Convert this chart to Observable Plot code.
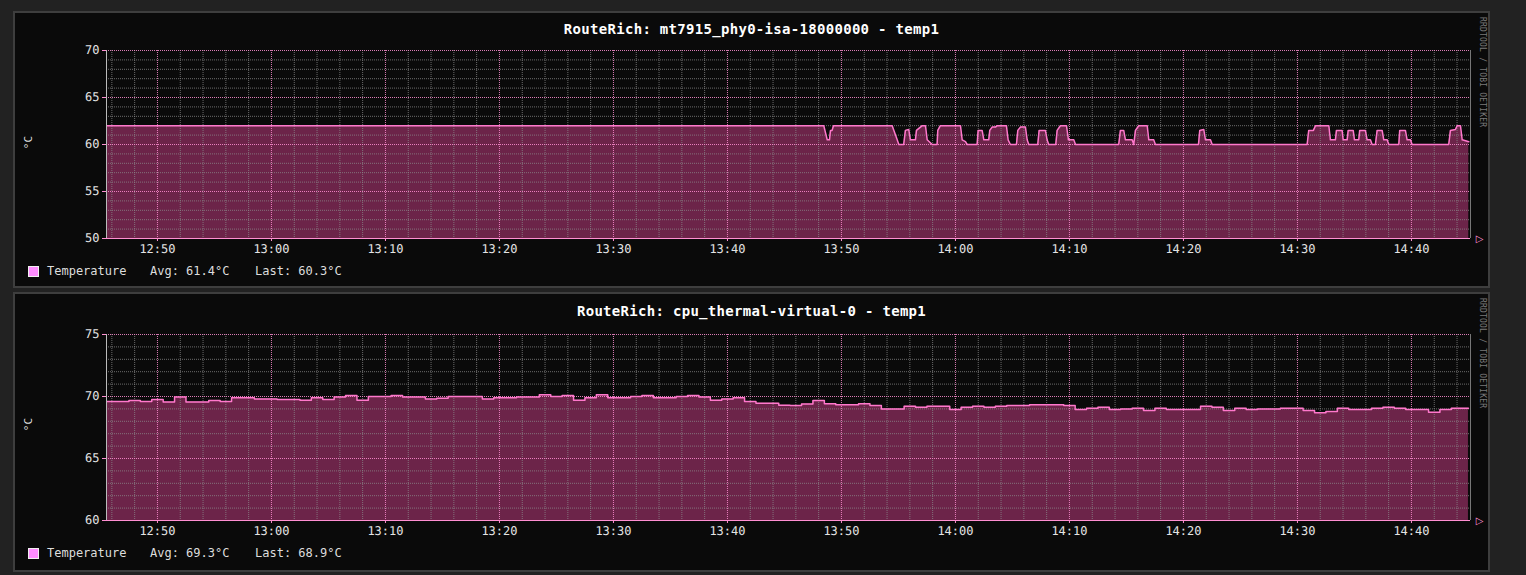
<!DOCTYPE html>
<html><head><meta charset="utf-8">
<script src="https://cdn.jsdelivr.net/npm/d3@7"></script>
<script src="https://cdn.jsdelivr.net/npm/@observablehq/plot@0.6"></script>
<style>
html,body{margin:0;padding:0;background:#222;}
body{width:1526px;height:575px;overflow:hidden;position:relative;font-family:"DejaVu Sans Mono",monospace;}
.panel{position:absolute;left:13px;width:1477px;background:#0a0a0a;border:2px solid #3e3e3e;box-sizing:border-box;}
.title{position:absolute;left:13px;width:1477px;text-align:center;color:#fff;font-weight:bold;font-size:14px;letter-spacing:0.3px;line-height:16px;}
.leg{position:absolute;color:#ddd;font-size:12px;line-height:14px;white-space:pre;}
.sw{position:absolute;width:9px;height:9px;background:#ff8cff;border:1px solid #f0f0f0;}
.rrd{position:absolute;font-size:8px;color:#7a7a7a;transform-origin:0 0;transform:rotate(90deg);white-space:pre;letter-spacing:0.2px;}
.ylab{position:absolute;font-size:11px;color:#ddd;transform:rotate(-90deg);white-space:pre;}
svg.chart{position:absolute;}
svg.chart text{text-rendering:geometricPrecision;}
</style>
</head><body>
<div class="panel" style="top:11px;height:277px"></div>
<div class="panel" style="top:292px;height:280px"></div>
<script>
// ---------- data ----------
const titles = ["RouteRich: mt7915_phy0-isa-18000000 - temp1", "RouteRich: cpu_thermal-virtual-0 - temp1"];
const seriesName = "Temperature";
const avgs = ["61.4°C", "69.3°C"];
const lasts = ["60.3°C", "68.9°C"];
const xTickLabels = ["12:50","13:00","13:10","13:20","13:30","13:40","13:50","14:00","14:10","14:20","14:30","14:40"];
const xStartMin = 45.53;   // minutes after 12:00
const xEndMin = 165.18;
const yTicks1 = [50, 55, 60, 65, 70];
const yTicks2 = [60, 65, 70, 75];

// panel 1: breakpoints (minutes after 12:00) and °C
const t1 = [45.53,108.45,108.75,108.95,109.04,109.18,109.30,114.45,114.89,115.03,115.46,115.61,115.90,116.05,116.49,116.58,116.93,117.08,117.37,117.52,117.96,118.39,118.45,118.68,120.44,120.59,120.88,121.03,121.90,121.99,122.34,122.49,122.92,123.01,123.22,123.51,123.66,124.47,124.62,124.82,125.35,125.47,125.70,126.14,126.29,126.43,127.22,127.34,127.89,128.04,128.18,128.80,128.92,129.21,129.74,129.91,130.38,130.53,134.32,134.47,134.76,134.91,135.50,135.64,135.79,136.08,136.82,136.96,137.39,137.54,141.32,141.43,141.78,141.93,142.37,142.52,150.85,150.99,151.40,151.58,152.75,152.89,153.33,153.42,153.92,154.01,154.36,154.45,154.89,155.00,155.38,155.46,155.96,156.11,156.40,156.55,156.84,156.99,157.43,157.57,157.87,158.01,158.89,158.97,159.47,159.62,159.91,160.06,163.27,163.42,163.86,164.01,164.30,164.45,165.03];
const v1 = [62,62,60.5,60.5,61.5,61.5,62,62,60.5,60,60,61.5,61.6,60.5,60.5,61.5,61.85,62,62,60.5,60,60,61.5,62,62,60.5,60.3,60,60,61.5,61.5,60.5,60.5,61.5,61.85,61.85,62,62,60.5,60,60,61.5,61.85,61.85,60.5,60,60,61.5,61.5,60.5,60,60,61.5,62,62,60.5,60.5,60,60,61.5,61.5,60.5,60.5,60,61.5,62,62,60.5,60.5,60,60,61.5,61.6,60.5,60.5,60,60,61.5,61.5,62,62,60.5,60.5,61.5,61.5,60.5,60.5,61.5,61.5,60.5,60.5,61.5,61.5,60.5,60.5,60,60,61.5,61.5,60.5,60.5,60,60,61.5,61.5,60.5,60.5,60,60,61.5,61.6,62,62,60.5,60.3];

// panel 2: one value per minute, from 12:45 to 14:45
const t2Start = 45;
const v2 = [69.6,69.6,69.6,69.68,69.6,69.75,69.55,69.95,69.55,69.55,69.68,69.6,69.9,69.9,69.8,69.8,69.75,69.75,69.7,69.9,69.75,69.95,70.08,69.7,70.0,70.0,70.08,69.95,69.95,69.8,69.85,70.0,70.0,70.0,69.8,69.9,69.9,69.95,69.95,70.15,70.0,70.08,69.7,69.9,70.15,69.9,69.9,70.0,70.08,69.9,69.9,70.0,70.08,69.95,69.7,69.8,69.9,69.6,69.45,69.45,69.3,69.27,69.4,69.68,69.41,69.33,69.33,69.41,69.27,69.0,69.0,69.22,69.14,69.22,69.22,68.95,69.14,69.22,69.14,69.22,69.27,69.27,69.33,69.33,69.33,69.27,68.95,69.05,69.14,68.95,69.0,69.06,68.87,69.06,68.95,68.95,68.95,69.22,69.14,68.87,69.06,68.95,69.0,69.0,69.06,69.06,68.87,68.68,68.79,69.06,68.95,68.95,69.06,69.14,69.06,68.95,68.95,68.73,68.95,69.06,69.06];

// ---------- helpers ----------
const base = Date.UTC(2024, 0, 1, 12, 0, 0);
const toDate = m => new Date(base + m * 60000);
const parseHM = s => { const [h, mm] = s.split(":").map(Number); return new Date(Date.UTC(2024, 0, 1, h, mm)); };

const data1 = t1.map((m, i) => ({date: toDate(m), value: v1[i]}));
const data2 = v2.map((v, i) => ({date: toDate(t2Start + i), value: v}));

const PINK = "#ff8fd2";
const LINE = "#ff78cc";
const FILL = "#6c2449";
const LABEL = "#e4e4e4";

function chart({data, yDomain, yMajor, height, marginTop, marginBottom, curve}) {
  const xDomain = [toDate(xStartMin), toDate(xEndMin)];
  const xMajor = xTickLabels.map(parseHM);
  const xMinor = d3.utcMinute.every(2).range(xDomain[0], xDomain[1]).filter(d => !xMajor.some(M => +M === +d));
  const yMinor = d3.range(yDomain[0] + 1, yDomain[1], 1).filter(v => !yMajor.includes(v));
  const font = {fontSize: 12, fontFamily: "DejaVu Sans Mono"};
  const svg = Plot.plot({
    width: 1477, height, marginLeft: 93, marginRight: 20, marginTop, marginBottom,
    style: {background: "transparent", fontFamily: "DejaVu Sans Mono", fontSize: "12px", color: LABEL, overflow: "visible"},
    x: {type: "utc", domain: xDomain},
    y: {domain: yDomain},
    marks: [
      Plot.areaY(data, {x: "date", y1: yDomain[0], y2: "value", fill: FILL, curve, clip: true}),
      Plot.gridX(xMinor, {stroke: "#8c8c8c", strokeOpacity: 0.75, strokeDasharray: "1,1"}),
      Plot.gridY(yMinor, {stroke: "#8c8c8c", strokeOpacity: 0.75, strokeDasharray: "1,1"}),
      Plot.gridX(xMajor, {stroke: PINK, strokeOpacity: 0.85, strokeDasharray: "1,1"}),
      Plot.gridY(yMajor, {stroke: PINK, strokeOpacity: 0.85, strokeDasharray: "1,1"}),
      Plot.ruleX([xDomain[1]], {stroke: "#777"}),
      Plot.line(data, {x: "date", y: "value", stroke: LINE, strokeWidth: 1.5, curve, clip: true}),
      Plot.ruleX([xDomain[0]], {stroke: "#bbb"}),
      Plot.ruleY([yDomain[0]], {stroke: PINK}),
      Plot.axisX(xMajor, {tickSize: 3, stroke: PINK, tickFormat: () => "", ...font}),
      Plot.axisX(xMajor, {tickFormat: d3.utcFormat("%H:%M"), tickSize: 0, tickPadding: 6, fill: LABEL, ...font}),
      Plot.axisY(yMajor, {tickSize: 4, tickPadding: 3, stroke: PINK, tickFormat: () => "", ...font}),
      Plot.axisY(yMajor, {tickSize: 0, tickPadding: 7, fill: LABEL, ...font}),
      Plot.text([{x: xDomain[1], y: yDomain[0]}], {x: "x", y: "y", text: () => "▷", dx: 9, fill: PINK, fontSize: 10, fontFamily: "DejaVu Sans"})
    ]
  });
  svg.classList.add("chart");
  return svg;
}

const panels = [
  {data: data1, yDomain: [50, 70], yMajor: yTicks1, top: 11, height: 262, marginTop: 39, marginBottom: 35, curve: "linear",
   titleY: 21, legY: 264, ylabY: 136, rrdY: 17},
  {data: data2, yDomain: [60, 75], yMajor: yTicks2, top: 292, height: 262, marginTop: 42, marginBottom: 34, curve: "step",
   titleY: 303, legY: 546, ylabY: 418, rrdY: 298}
];

panels.forEach((p, i) => {
  const svg = chart(p);
  svg.style.left = "13px";
  svg.style.top = p.top + "px";
  document.body.appendChild(svg);

  const t = document.createElement("div");
  t.className = "title"; t.style.top = p.titleY + "px"; t.textContent = titles[i];
  document.body.appendChild(t);

  const sw = document.createElement("div");
  sw.className = "sw"; sw.style.left = "28px"; sw.style.top = (p.legY + 2) + "px";
  document.body.appendChild(sw);
  [[47, seriesName], [150, "Avg: " + avgs[i]], [255, "Last: " + lasts[i]]].forEach(([x, s]) => {
    const d = document.createElement("div");
    d.className = "leg"; d.style.left = x + "px"; d.style.top = p.legY + "px"; d.textContent = s;
    document.body.appendChild(d);
  });

  const yl = document.createElement("div");
  yl.className = "ylab"; yl.style.left = "22px"; yl.style.top = p.ylabY + "px"; yl.textContent = "°C";
  document.body.appendChild(yl);

  const r = document.createElement("div");
  r.className = "rrd"; r.style.left = "1487px"; r.style.top = p.rrdY + "px"; r.textContent = "RRDTOOL / TOBI OETIKER";
  document.body.appendChild(r);
});
</script>
</body></html>
